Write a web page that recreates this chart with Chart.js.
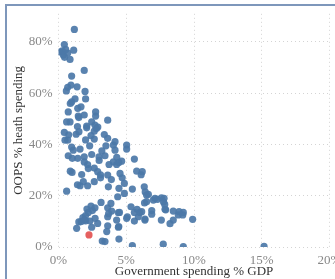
<!DOCTYPE html>
<html>
<head>
<meta charset="utf-8">
<script src="https://cdn.jsdelivr.net/npm/chart.js@4"></script>
<style>
  html, body { margin: 0; padding: 0; background: #fff; overflow: hidden; }
  .frame {
    position: absolute; left: 5px; top: 4px; width: 360px; height: 290px;
    border-top: 2px solid #7e97bb; border-left: 2px solid #7e97bb;
  }
  .wrap { position: absolute; left: 0; top: 0; width: 350px; height: 279px; }
</style>
</head>
<body>
<div class="frame"></div>
<div class="wrap"><canvas class="js-chart"></canvas></div>
<script>
// government spending % GDP
const govSpend = [
  1.17, 0.43, 0.11, 0.53, 0.36, 0.68, 1.12, 0.85, 0.28, 0.45,
  1.9, 0.97, 0.68, 0.58, 0.92, 1.37, 1.96, 2.0, 1.22, 0.97,
  0.87, 0.72, 1.42, 1.66, 1.46, 1.9, 2.74, 2.74, 3.63, 0.6,
  0.85, 1.5, 2.45, 2.08, 2.69, 2.9, 1.4,
  0.43, 0.48, 0.68, 0.75, 1.51, 2.08, 2.64, 2.8, 3.38, 2.64,
  3.63, 4.17, 4.05, 5.03, 5.03, 4.17, 1.09, 1.59, 0.97, 0.72,
  1.02, 1.42, 1.9, 2.45, 2.99, 3.43, 2.15, 2.2, 2.64, 1.9,
  3.73, 4.05, 4.29, 4.45, 4.66, 5.6, 0.87, 1.0, 1.71, 2.89,
  3.1, 3.63, 4.54, 4.7, 5.77, 6.18, 6.1, 3.1, 3.9, 2.64,
  2.15, 1.59, 1.4, 1.83, 3.68, 4.86, 4.46, 5.45, 6.33, 0.6,
  4.37, 4.86, 6.4, 6.63, 7.12, 7.6, 6.5, 7.0, 7.3, 7.75,
  6.5, 6.35, 3.14, 3.87, 2.69, 2.5, 2.2, 2.0, 1.66, 1.5,
  2.0, 2.32, 2.7, 2.89, 3.63, 3.92, 3.63, 3.7, 5.35, 5.6,
  4.5, 5.03, 5.6, 6.0, 6.88, 6.38, 4.29, 3.63, 4.45, 1.34,
  2.45, 3.56, 4.46, 3.23, 3.43, 5.45, 7.73,
  7.79, 7.84, 7.91, 8.47, 8.84, 9.21, 9.17, 8.47, 8.23, 7.59,
  9.9, 9.21, 15.17, 5.8, 6.14, 6.88, 7.86, 5.89, 5.08, 4.42,
  4.42, 6.38, 8.9, 1.8, 2.1, 2.4, 1.9, 3.0, 2.3, 4.3,
  1.3, 2.0, 3.5, 3.2, 2.4
];
// out-of-pocket % of health spending
const oopsShare = [
  84.9, 79.0, 76.1, 77.1, 74.9, 75.7, 76.8, 73.2, 76.5, 74.0,
  68.9, 66.7, 62.3, 60.9, 63.2, 62.5, 60.7, 57.8, 57.8, 56.6,
  56.0, 52.7, 54.1, 54.7, 51.1, 51.5, 52.7, 51.1, 49.5, 48.8,
  48.8, 50.5, 48.8, 47.2, 47.6, 46.8, 47.0,
  44.7, 41.7, 41.7, 43.8, 45.0, 46.5, 45.2, 46.2, 43.9, 42.1,
  42.4, 41.1, 39.8, 39.8, 38.2, 37.8, 37.8, 38.2, 39.0, 35.6,
  34.6, 34.6, 35.2, 36.1, 35.2, 35.6, 32.2, 30.6, 30.8, 33.2,
  32.2, 33.2, 32.2, 33.0, 33.5, 34.3, 29.6, 29.1, 28.3, 29.4,
  28.2, 28.1, 28.7, 27.0, 29.6, 29.4, 28.2, 27.0, 26.3, 25.5,
  23.9, 23.9, 24.3, 25.5, 23.5, 24.8, 22.9, 22.6, 23.5, 21.8,
  19.6, 20.9, 21.5, 20.5, 19.0, 19.2, 20.3, 18.3, 18.6, 17.6,
  17.7, 17.2, 17.4, 17.0, 15.3, 14.2, 13.5, 12.3, 9.9, 9.8,
  10.2, 10.1, 11.2, 9.2, 11.8, 14.0, 15.3, 13.0, 15.7, 13.5,
  13.5, 11.2, 10.1, 13.5, 12.8, 10.9, 10.5, 8.3, 8.0, 7.3,
  7.7, 6.0, 3.1, 2.3, 2.1, 0.5, 1.1,
  19.0, 16.6, 14.5, 14.0, 12.5, 13.5, 12.5, 10.5, 9.1, 10.5,
  10.8, 0.2, 0.3, 14.7, 13.8, 14.2, 14.7, 11.8, 11.8, 13.4,
  7.7, 10.5, 13.8, 11.5, 14.8, 16.0, 10.5, 33.8, 39.5, 35.0,
  44.0, 41.8, 39.5, 37.5, 43.5
];
// highlighted country
const highlightX = [2.25];
const highlightY = [4.7];

const xTicks = [0, 5, 10, 15, 20];
const yTicks = [0, 20, 40, 60, 80];

const toPoints = function (xs, ys) {
  return xs.map((x, i) => ({ x: x, y: ys[i] }));
};

const serif = 'Liberation Serif, Times New Roman, serif';

const keepTicks = function (list) {
  return function (scale) {
    scale.ticks = list.map((v) => ({ value: v }));
  };
};

const createChart = function () {
  const canvas = document.querySelector('.js-chart');
  new Chart(canvas, {
    type: 'scatter',
    data: {
      datasets: [
        {
          data: toPoints(highlightX, highlightY),
          backgroundColor: 'rgba(228,87,86,0.95)',
          pointRadius: 3.6,
          borderWidth: 0,
        },
        {
          data: toPoints(govSpend, oopsShare),
          backgroundColor: 'rgba(76,120,168,0.92)',
          pointRadius: 3.6,
          borderWidth: 0,
        },
      ],
    },
    options: {
      responsive: false,
      animation: false,
      devicePixelRatio: 1,
      layout: { padding: { top: 13, right: 20.5, left: 0, bottom: 0 } },
      plugins: { legend: { display: false }, tooltip: { enabled: false } },
      scales: {
        x: {
          type: 'linear',
          min: 0,
          max: 20,
          afterBuildTicks: keepTicks(xTicks),
          afterFit: (scale) => { scale.height = 32; },
          grid: { color: '#d4d4d4', drawTicks: false, lineWidth: 1 },
          border: { display: false, dash: [1, 3] },
          ticks: {
            padding: 6,
            color: '#888',
            font: { family: serif, size: 13 },
            callback: (v) => v + '%',
          },
          title: {
            display: true,
            text: 'Government spending % GDP',
            color: '#333',
            padding: { top: -2, bottom: 0 },
            font: { family: serif, size: 13 },
          },
        },
        y: {
          type: 'linear',
          min: 0,
          max: 91,
          afterBuildTicks: keepTicks(yTicks),
          afterFit: (scale) => { scale.width = 58.5; },
          grid: { color: '#d4d4d4', drawTicks: false, lineWidth: 1 },
          border: { display: false, dash: [1, 3] },
          ticks: {
            padding: 6,
            color: '#888',
            font: { family: serif, size: 13 },
            callback: (v) => v + '%',
          },
          title: {
            display: true,
            text: 'OOPS % heath spending',
            color: '#333',
            padding: { top: 11, bottom: 0 },
            font: { family: serif, size: 13 },
          },
        },
      },
    },
  });
};

const canvas = document.querySelector('.js-chart');
canvas.width = 350;
canvas.height = 279;
createChart();
</script>
</body>
</html>
